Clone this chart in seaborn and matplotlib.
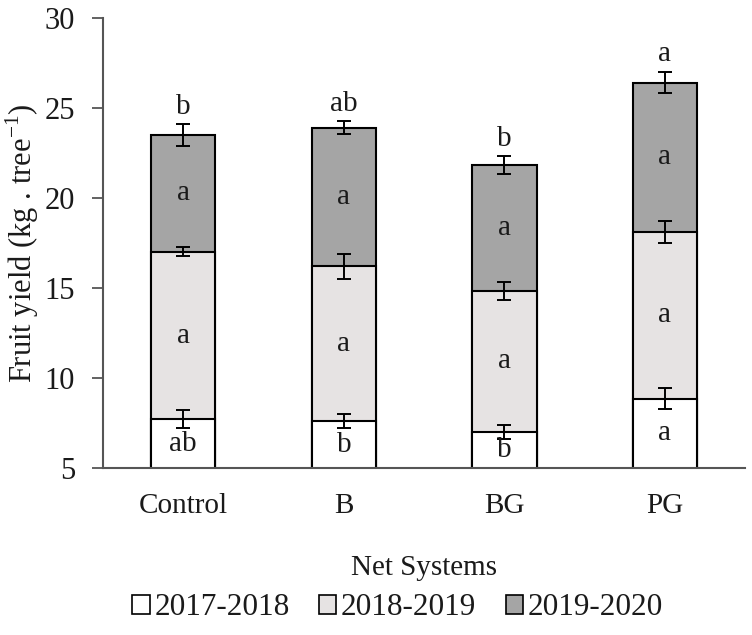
import numpy as np
import pandas as pd
import seaborn as sns
import matplotlib.pyplot as plt
from matplotlib.patches import Patch

# data
systems = ["Control", "B", "BG", "PG"]
seasons = ["2017-2018", "2018-2019", "2019-2020"]
y1718 = [7.7, 7.6, 7.0, 8.85]
y1819 = [9.3, 8.6, 7.85, 9.25]
y1920 = [6.5, 7.7, 6.95, 8.3]
err1718 = [0.5, 0.4, 0.4, 0.6]
err1819 = [0.25, 0.7, 0.5, 0.6]
err1920 = [0.6, 0.35, 0.5, 0.6]
let1718 = ["ab", "b", "b", "a"]
let1819 = ["a", "a", "a", "a"]
let1920 = ["a", "a", "a", "a"]
let_total = ["b", "ab", "b", "a"]
colors = ["#ffffff", "#e6e3e3", "#a5a5a5"]

sns.set_style("ticks")
plt.rcParams["font.family"] = ["Liberation Serif", "DejaVu Serif"]
plt.rcParams["mathtext.fontset"] = "custom"
plt.rcParams["mathtext.rm"] = "Liberation Serif"
plt.rcParams["text.color"] = "#1a1a1a"
plt.rcParams["axes.labelcolor"] = "#1a1a1a"
plt.rcParams["xtick.color"] = "#555555"
plt.rcParams["ytick.color"] = "#555555"
plt.rcParams["xtick.labelcolor"] = "#1a1a1a"
plt.rcParams["ytick.labelcolor"] = "#1a1a1a"

c1 = np.array(y1718)
c2 = c1 + np.array(y1819)
c3 = c2 + np.array(y1920)
df = pd.DataFrame({"system": systems, "c1": c1, "c2": c2, "c3": c3})

fig = plt.figure(figsize=(7.52, 6.35), dpi=100)
ax = fig.add_axes([0.137, 0.263, 0.854, 0.709])

# stacked look: draw cumulative totals from the tallest down
for col, colr in zip(["c3", "c2", "c1"], colors[::-1]):
    sns.barplot(data=df, x="system", y=col, color=colr, edgecolor="black",
                linewidth=1.5, width=0.4, ax=ax, saturation=1)

xs = np.arange(len(systems))
for cum, err in [(c1, err1718), (c2, err1819), (c3, err1920)]:
    ax.errorbar(xs, cum, yerr=err, fmt="none", ecolor="black", elinewidth=1.4,
                capsize=5, capthick=1.4, zorder=5)

fs = 21
for i in xs:
    ax.text(i, (5 + c1[i]) / 2, let1718[i], ha="center", va="center", fontsize=fs, zorder=6)
    ax.text(i, (c1[i] + c2[i]) / 2, let1819[i], ha="center", va="center", fontsize=fs, zorder=6)
    ax.text(i, (c2[i] + c3[i]) / 2, let1920[i], ha="center", va="center", fontsize=fs, zorder=6)
    ax.text(i, c3[i] + err1920[i] + 0.25, let_total[i], ha="center", va="bottom", fontsize=fs, zorder=6)

ax.set_xlim(-0.5, 3.5)
ax.set_ylim(5, 30)
ax.set_yticks([5, 10, 15, 20, 25, 30])
ax.tick_params(axis="y", labelsize=22, length=8, width=1.3, pad=12)
ax.tick_params(axis="x", labelsize=21, length=0, pad=18)
ax.set_xlabel("Net Systems", fontsize=21, labelpad=26)
ax.set_ylabel(r"Fruit yield (kg . tree$^{\mathregular{-1}}$)", fontsize=22, labelpad=3)
sns.despine(ax=ax)
for s in ["left", "bottom"]:
    ax.spines[s].set_color("#555555")
    ax.spines[s].set_linewidth(1.5)

handles = [Patch(facecolor=c, edgecolor="black", linewidth=1.2) for c in colors]
fig.legend(handles, seasons, loc="center", bbox_to_anchor=(0.529, 0.043), ncol=3,
           frameon=False, fontsize=22.5, handlelength=0.55, handleheight=0.55,
           handletextpad=0.15, columnspacing=0.95)

fig.savefig("out.png", dpi=100)
